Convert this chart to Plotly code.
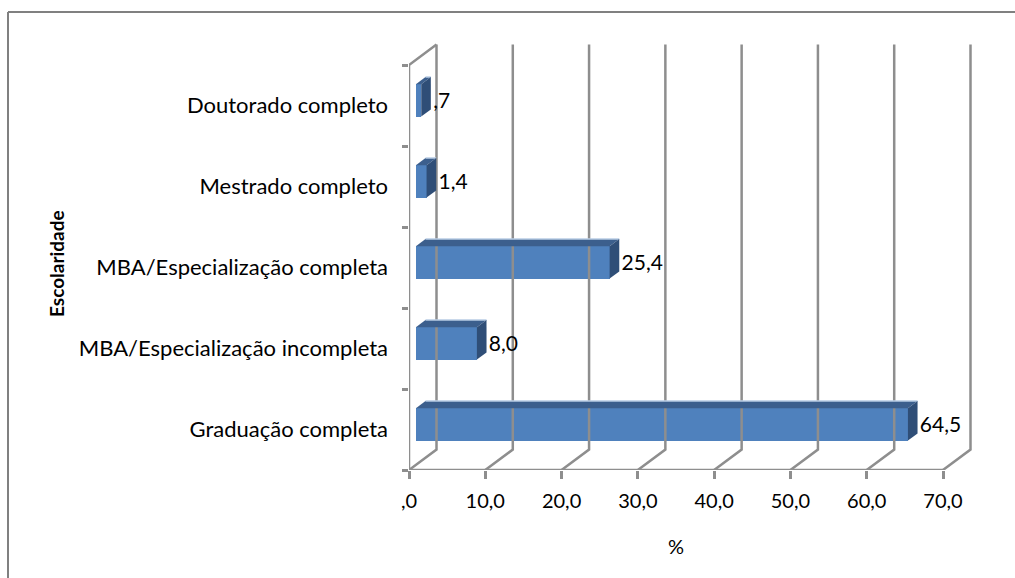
import plotly.graph_objects as go

# Escolaridade dos respondentes (%)
categorias = [
    "Graduação completa",
    "MBA/Especialização incompleta",
    "MBA/Especialização completa",
    "Mestrado completo",
    "Doutorado completo",
]
percentuais = [64.5, 8.0, 25.4, 1.4, 0.7]
x_ticks = [0, 10, 20, 30, 40, 50, 60, 70]

FONT = "Lato"
GRID = "#8e8e8e"
FRONT = "#4F81BD"
TOP = "#3C5F8D"
SIDE = "#2F4E77"
HILITE = "#B9CDE5"

# pixel layout of the plotting area
W_PX, H_PX = 1015, 578
L, T = 409, 40
X_PX = 534 / 70          # pixels per percentage point
Y_PX = 81                # pixels per category slot
PLOT_W, PLOT_H = 565, 430
x_max = PLOT_W / X_PX
y_max = PLOT_H / Y_PX

# oblique projection of the depth axis (0 = front, 1 = back wall)
DEPTH_X = 27.5 / X_PX
DEPTH_Y = 20.5 / Y_PX
Z_FRONT, Z_BACK = 0.25, 0.60
HALF_BAR = 0.2


def proj(x, y, z):
    return x + z * DEPTH_X, y + z * DEPTH_Y


def fmt(v):
    s = f"{v:.1f}".replace(".", ",")
    return s[1:] if s.startswith("0") else s


def px_to_paper_x(px):
    return (px - L) / PLOT_W


def px_to_paper_y(py):
    return (T + PLOT_H - py) / PLOT_H


fig = go.Figure()

# back wall gridlines and floor diagonals
n_cat = len(categorias)
for t in x_ticks:
    bx0, by0 = proj(t, 0, 1)
    bx1, by1 = proj(t, n_cat, 1)
    fig.add_trace(go.Scatter(x=[t, bx0, bx1], y=[0, by0, by1], mode="lines",
                             line=dict(color=GRID, width=2.5),
                             hoverinfo="skip", showlegend=False))

# front axes and top-left edge of the side wall
tx, ty = proj(0, n_cat, 1)
fig.add_trace(go.Scatter(x=[tx, 0, 0, x_ticks[-1]], y=[ty, n_cat, 0, 0],
                         mode="lines", line=dict(color=GRID, width=2.5),
                         hoverinfo="skip", showlegend=False))

# bars: front face from the data, top and side faces projected in depth
centers = [i + 0.5 for i in range(n_cat)]
x0_front, _ = proj(0, 0, Z_FRONT)
dz = Z_BACK - Z_FRONT
fig.add_trace(go.Bar(
    x=percentuais,
    y=[proj(0, c, Z_FRONT)[1] for c in centers],
    base=x0_front, orientation="h", width=2 * HALF_BAR,
    marker=dict(color=FRONT, line=dict(width=0)),
    hoverinfo="skip", showlegend=False,
))
for c, v in zip(centers, percentuais):
    xa, ytop = proj(0, c + HALF_BAR, Z_FRONT)
    _, ybot = proj(0, c - HALF_BAR, Z_FRONT)
    xb = xa + v
    ddx, ddy = dz * DEPTH_X, dz * DEPTH_Y
    fig.add_trace(go.Scatter(
        x=[xa, xb, xb + ddx, xa + ddx, xa], y=[ytop, ytop, ytop + ddy, ytop + ddy, ytop],
        fill="toself", fillcolor=TOP, mode="lines", line=dict(width=0, color=TOP),
        hoverinfo="skip", showlegend=False))
    fig.add_trace(go.Scatter(
        x=[xa + ddx, xb + ddx], y=[ytop + ddy, ytop + ddy], mode="lines",
        line=dict(width=1.5, color=HILITE), hoverinfo="skip", showlegend=False))
    fig.add_trace(go.Scatter(
        x=[xb, xb + ddx, xb + ddx, xb, xb], y=[ybot, ybot + ddy, ytop + ddy, ytop, ybot],
        fill="toself", fillcolor=SIDE, mode="lines", line=dict(width=0, color=SIDE),
        hoverinfo="skip", showlegend=False))

# value labels to the right of each bar
fig.add_trace(go.Scatter(
    x=[x0_front + v + dz * DEPTH_X + 0.3 for v in percentuais],
    y=[proj(0, c, Z_FRONT)[1] - 0.03 for c in centers],
    mode="text", text=[fmt(v) for v in percentuais], textposition="middle right",
    textfont=dict(family=FONT, size=21, color="#000000"),
    hoverinfo="skip", showlegend=False, cliponaxis=False,
))

fig.update_layout(
    width=W_PX, height=H_PX,
    margin=dict(l=L, r=W_PX - L - PLOT_W, t=T, b=H_PX - T - PLOT_H),
    plot_bgcolor="white", paper_bgcolor="white",
    font=dict(family=FONT, color="#000000"),
    bargap=0,
    xaxis=dict(
        range=[0, x_max], showgrid=False, zeroline=False, showline=False,
        tickvals=x_ticks, ticktext=[fmt(t) for t in x_ticks],
        ticks="outside", ticklen=8, tickwidth=2.5, tickcolor=GRID,
        ticklabelstandoff=5,
        tickfont=dict(family=FONT, size=20, color="#000000"),
        fixedrange=True,
    ),
    yaxis=dict(
        range=[0, y_max], showgrid=False, zeroline=False, showline=False,
        tickvals=centers, ticktext=categorias, ticks="",
        ticklabelstandoff=20,
        tickfont=dict(family=FONT, size=22, color="#000000"),
        minor=dict(tickvals=list(range(n_cat + 1)), ticks="outside", ticklen=6,
                   tickwidth=2.5, tickcolor=GRID),
        fixedrange=True,
    ),
    annotations=[
        dict(text="%", x=px_to_paper_x(676), y=px_to_paper_y(546),
             xref="paper", yref="paper", xanchor="center", yanchor="middle",
             showarrow=False, font=dict(family=FONT, size=20, color="#000000")),
        dict(text="<b>Escolaridade</b>", x=px_to_paper_x(56), y=px_to_paper_y(264),
             xref="paper", yref="paper", xanchor="center", yanchor="middle",
             textangle=-90, showarrow=False,
             font=dict(family=FONT, size=19, color="#000000")),
    ],
    shapes=[
        dict(type="line", xref="paper", yref="paper",
             x0=px_to_paper_x(8), x1=px_to_paper_x(8),
             y0=px_to_paper_y(12), y1=px_to_paper_y(600),
             line=dict(color="#808080", width=2)),
        dict(type="line", xref="paper", yref="paper",
             x0=px_to_paper_x(8), x1=px_to_paper_x(1030),
             y0=px_to_paper_y(12), y1=px_to_paper_y(12),
             line=dict(color="#808080", width=2)),
    ],
)

fig.write_html("out.html")
